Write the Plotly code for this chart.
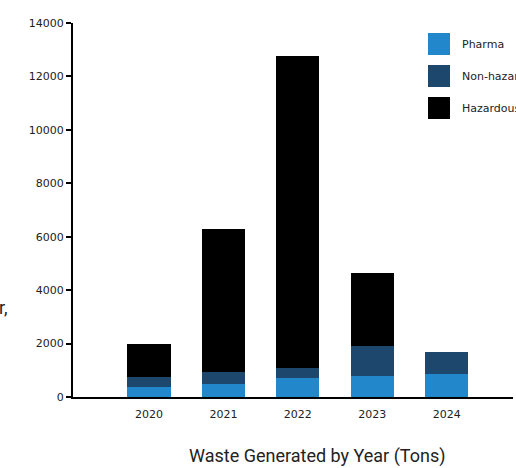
import plotly.graph_objects as go

# Waste generated per year, stacked by category (tons)
years = ["2020", "2021", "2022", "2023", "2024"]
pharma = [390, 500, 720, 800, 850]
non_hazardous = [370, 450, 380, 1120, 850]
hazardous = [1240, 5350, 11650, 2740, 0]

series_names = ["Pharma", "Non-hazardous", "Hazardous"]
series_colors = ["#2288CB", "#1D476C", "#000000"]
y_ticks = [0, 2000, 4000, 6000, 8000, 10000, 12000, 14000]
y_tick_text = [str(v) for v in y_ticks]

fig = go.Figure()
for name, vals, color in zip(series_names, [pharma, non_hazardous, hazardous], series_colors):
    fig.add_trace(go.Bar(
        x=years, y=vals, name=name,
        marker=dict(color=color, line=dict(width=0)),
        width=0.58, showlegend=False,
    ))

# Legend drawn as large swatches with labels, running past the right edge
W, H = 516, 468
L, R, T, B = 73, 3, 23, 71
pw, ph = W - L - R, H - T - B


def px_x(p):
    return (p - L) / pw


def px_y(p):
    return 1 - (p - T) / ph


for i, (name, color) in enumerate(zip(series_names, series_colors)):
    cy = 44 + 32 * i
    fig.add_shape(type="rect", xref="paper", yref="paper",
                  x0=px_x(428), x1=px_x(450), y0=px_y(cy - 11), y1=px_y(cy + 11),
                  fillcolor=color, line=dict(width=0))
    fig.add_annotation(xref="paper", yref="paper", x=px_x(460), y=px_y(cy),
                       text=name, showarrow=False, xanchor="left", yanchor="middle",
                       font=dict(family="DejaVu Sans", size=11, color="#222222"))

fig.add_annotation(xref="paper", yref="paper", x=px_x(317), y=px_y(456),
                   text="Waste Generated by Year (Tons)", showarrow=False,
                   xanchor="center", yanchor="middle",
                   font=dict(family="Roboto", size=18, color="#222222"))

fig.add_annotation(xref="paper", yref="paper", x=px_x(10), y=px_y(307),
                   text="r,", showarrow=False, xanchor="right", yanchor="middle",
                   font=dict(family="Roboto", size=18, color="#222222"))

fig.update_layout(
    width=W, height=H,
    margin=dict(l=L, r=R, t=T, b=B, autoexpand=False),
    barmode="stack",
    bargap=0,
    plot_bgcolor="white", paper_bgcolor="white",
    xaxis=dict(
        type="category", range=[-1.02, 4.89],
        showline=True, linecolor="black", linewidth=2,
        ticks="", showgrid=False, zeroline=False,
        tickfont=dict(family="DejaVu Sans", size=11, color="#222222"),
        ticklabelstandoff=6,
    ),
    yaxis=dict(
        range=[0, 14000], tickvals=y_ticks, ticktext=y_tick_text,
        showline=True, linecolor="black", linewidth=2,
        ticks="outside", ticklen=5, tickwidth=2, tickcolor="black",
        showgrid=False, zeroline=False,
        tickfont=dict(family="DejaVu Sans", size=11, color="#222222"),
    ),
)

fig.write_html("out.html")
